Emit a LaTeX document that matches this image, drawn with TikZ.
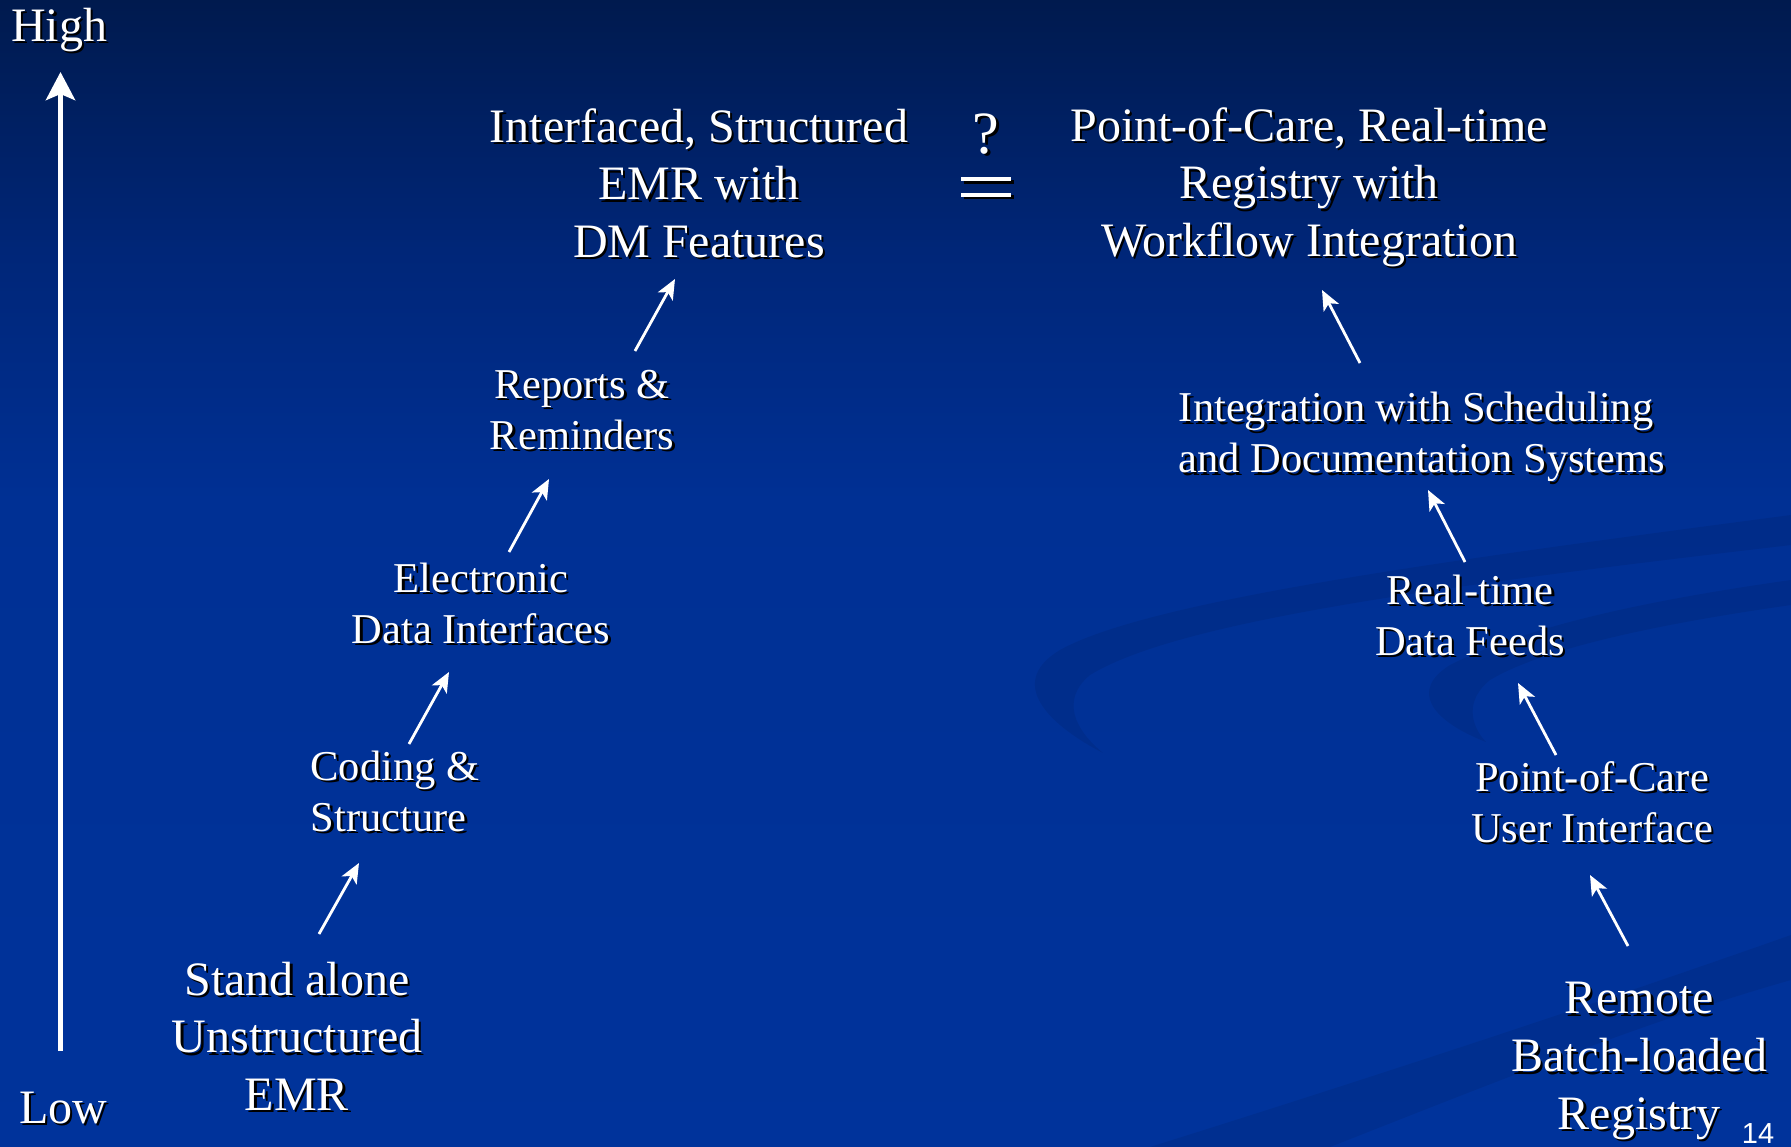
\documentclass[tikz,border=0pt]{standalone}
\usepackage{fontspec}
\setmainfont{Liberation Serif}
\newfontfamily\numfont{Liberation Sans}
\usetikzlibrary{arrows.meta}
\definecolor{bgtop}{RGB}{0,26,78}
\definecolor{bgup}{RGB}{0,38,120}
\definecolor{bgmid}{RGB}{0,48,148}
\definecolor{bgbot}{RGB}{0,51,155}
\pgfdeclareverticalshading{bgshade}{100bp}{color(0bp)=(bgbot); color(25bp)=(bgbot); color(53.2bp)=(bgmid); color(64.1bp)=(bgup); color(75bp)=(bgtop); color(100bp)=(bgtop)}
\tikzset{
  txt/.style={inner sep=0pt, align=center},
  bigtxt/.style={font=\fontsize{48}{57.6}\selectfont},
  smalltxt/.style={font=\fontsize{42.5}{51}\selectfont},
  arr/.style={white, line width=2.8pt, -{Stealth[length=20pt,width=17pt,inset=5pt]}},
  axisarr/.style={white, line width=5.5pt, -{Stealth[length=28pt,width=29pt,inset=6pt]}},
  swoosh/.style={fill=black, fill opacity=0.07, draw=none},
}
\newcommand{\shtext}[4][]{%
  \node[txt,black,xshift=2.5pt,yshift=-2.5pt,#1] at (#3) {#4};
  \node[txt,white,#1] (#2) at (#3) {#4};}
\begin{document}
\begin{tikzpicture}[x=1pt,y=-1pt]
\useasboundingbox (0,0) rectangle (1791,1147);
\shade[shading=bgshade] (0,0) rectangle (1791,1147);
% background swooshes
\fill[swoosh] (1103,753) .. controls (1040,720) and (1010,680) .. (1060,650) .. controls (1150,600) and (1450,560) .. (1791,515) -- (1791,545) .. controls (1450,585) and (1180,620) .. (1090,675) .. controls (1060,700) and (1075,730) .. (1103,753) -- cycle;
\fill[swoosh] (1486,742) .. controls (1430,720) and (1410,690) .. (1450,665) .. controls (1530,625) and (1650,600) .. (1791,580) -- (1791,605) .. controls (1650,625) and (1540,650) .. (1490,680) .. controls (1465,700) and (1470,725) .. (1486,742) -- cycle;
\fill[swoosh] (1791,935) .. controls (1550,1020) and (1300,1100) .. (1150,1147) -- (1330,1147) .. controls (1500,1080) and (1650,1020) .. (1791,980) -- cycle;

% axis
\shtext[bigtxt]{high}{59,30}{High}
\shtext[bigtxt]{low}{63,1108}{Low}
\coordinate (axbot) at (60.5,1051);
\coordinate (axtop) at (60.5,72);
\draw[axisarr] (axbot) -- (axtop);

% left column
\shtext[bigtxt]{emr}{297,1036}{Stand alone\\Unstructured\\EMR}
\shtext[smalltxt,align=left]{coding}{395,791}{Coding \&\\Structure}
\shtext[smalltxt]{elec}{481,603}{Electronic\\Data Interfaces}
\shtext[smalltxt]{reports}{582,410}{Reports \&\\Reminders}
\shtext[bigtxt]{iemr}{699,183}{Interfaced, Structured\\EMR with\\DM Features}

% right column
\shtext[bigtxt]{remote}{1639,1061}{Remote\\Batch-loaded\\Registry}
\shtext[smalltxt]{pocui}{1592,802}{Point-of-Care\\User Interface}
\shtext[smalltxt]{rtfeed}{1470,615}{Real-time\\Data Feeds}
\shtext[smalltxt,align=left]{integ}{1422,437}{Integration with Scheduling\\and Documentation Systems}
\shtext[bigtxt]{pocreg}{1309,187}{Point-of-Care, Real-time\\Registry with\\Workflow Integration}

% question-equal sign
\shtext[font=\fontsize{60}{60}\selectfont]{qmark}{986,134}{?}
\fill[black] (963.5,180) rectangle (1014,184);
\fill[black] (963.5,195.5) rectangle (1014,199.5);
\fill[white] (961,177.3) rectangle (1011,181);
\fill[white] (961,192.8) rectangle (1011,196.6);

% arrows left
\coordinate (a1s) at (319,934); \coordinate (a1e) at (359,863);
\coordinate (a2s) at (409,744); \coordinate (a2e) at (449,672);
\coordinate (a3s) at (509,552); \coordinate (a3e) at (549,479);
\coordinate (a4s) at (635,351); \coordinate (a4e) at (675,279);
\draw[arr] (a1s) -- (a1e);
\draw[arr] (a2s) -- (a2e);
\draw[arr] (a3s) -- (a3e);
\draw[arr] (a4s) -- (a4e);
% arrows right
\coordinate (b1s) at (1628,946); \coordinate (b1e) at (1590,875);
\coordinate (b2s) at (1556,755); \coordinate (b2e) at (1518,683);
\coordinate (b3s) at (1465,562); \coordinate (b3e) at (1428,490);
\coordinate (b4s) at (1360,363); \coordinate (b4e) at (1322,290);
\draw[arr] (b1s) -- (b1e);
\draw[arr] (b2s) -- (b2e);
\draw[arr] (b3s) -- (b3e);
\draw[arr] (b4s) -- (b4e);

% page number
\node[inner sep=0pt, anchor=base, white, font=\numfont\fontsize{29}{29}\selectfont] (pnum) at (1758,1143) {14};
\end{tikzpicture}
\end{document}
